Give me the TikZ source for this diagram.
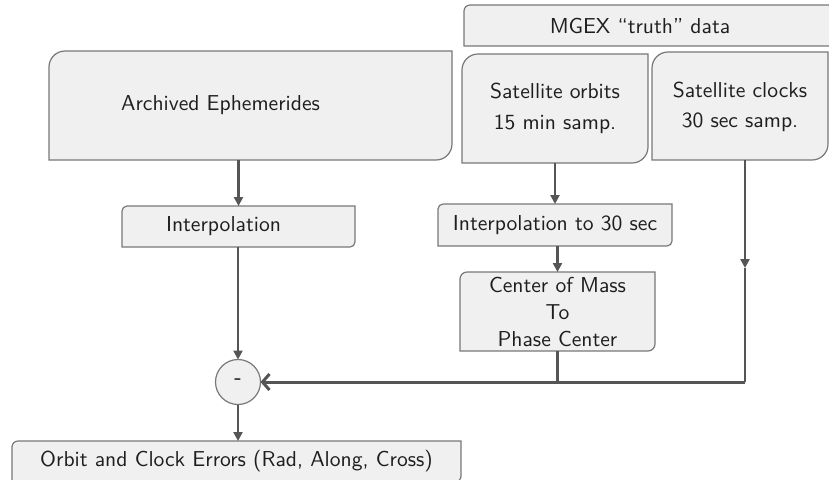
\documentclass[tikz,border=0pt]{standalone}
\usetikzlibrary{arrows.meta,backgrounds,calc}
\definecolor{boxfill}{HTML}{F0F0F0}
\definecolor{boxedge}{HTML}{787878}
\definecolor{linecol}{HTML}{555555}
\definecolor{textcol}{HTML}{1E1E1E}
\newcommand\tlbrbox[2]{%
  \path[boxshape] (#1.south west) -- ([yshift=-#2]#1.north west)
    arc[start angle=180,end angle=90,radius=#2] -- (#1.north east)
    -- ([yshift=#2]#1.south east) arc[start angle=0,end angle=-90,radius=#2] -- cycle;}
\begin{document}
\begin{tikzpicture}[x=0.5pt,y=-0.5pt,
  every node/.style={font=\sffamily\fontsize{10.8}{13.5}\selectfont,text=textcol},
  box/.style={rectangle,draw=none,inner sep=0pt,outer sep=0pt,align=center},
  boxshape/.style={fill=boxfill,draw=boxedge,line width=0.6pt},
  conn/.style={draw=linecol,line width=1.2pt,-{Triangle[length=4.5pt,width=4.5pt]}},
  plain/.style={draw=linecol,line width=1.2pt},
  mainconn/.style={draw=linecol,line width=1.5pt,-{Straight Barb[length=3.5pt,width=8pt,line width=1.5pt]}},
  sumnode/.style={circle,draw=boxedge,fill=boxfill,line width=0.6pt,minimum size=22.5pt,inner sep=0pt,outer sep=0pt}]
\useasboundingbox (0,0) rectangle (829,479);

% nodes
\node[box,minimum width=201.5pt,minimum height=54.5pt] (arch) at (250.5,105.5) {Archived Ephemerides\hspace*{30pt}};
\node[box,minimum width=116.5pt,minimum height=20.5pt] (interp) at (238.5,226.5) {Interpolation\hspace*{15pt}};
\node[box,minimum width=188pt,minimum height=20.5pt] (mgex) at (652,25.5) {MGEX ``truth'' data\hspace*{12pt}};
\node[box,minimum width=93pt,minimum height=54.5pt,font=\sffamily\fontsize{10.8}{15.5}\selectfont] (orbits) at (555,108.5) {Satellite orbits\\15 min samp.};
\node[box,minimum width=88pt,minimum height=54pt,font=\sffamily\fontsize{10.8}{15.5}\selectfont] (clocks) at (740,106) {\raisebox{6pt}{\begin{tabular}{@{}c@{}}Satellite clocks\\[-0.3pt]30 sec samp.\end{tabular}}};
\node[box,minimum width=117pt,minimum height=21pt] (interp30) at (555,225) {Interpolation to 30 sec};
\node[box,minimum width=97.5pt,minimum height=39.5pt] (com) at (557.5,311.5) {Center of Mass\\To\\Phase Center};
\node[sumnode,font=\sffamily\bfseries\fontsize{10.8}{13.5}\selectfont] (minus) at (238,382) {-};
\node[box,minimum width=224.5pt,minimum height=20.5pt] (errors) at (236.5,461.5) {Orbit and Clock Errors (Rad, Along, Cross)};

\begin{scope}[on background layer]
  \tlbrbox{arch}{8pt}
  \tlbrbox{interp}{2.5pt}
  \tlbrbox{mgex}{3pt}
  \tlbrbox{orbits}{8pt}
  \tlbrbox{clocks}{8pt}
  \tlbrbox{interp30}{2.5pt}
  \tlbrbox{com}{3.5pt}
  \tlbrbox{errors}{3pt}
\end{scope}

% connectors
\coordinate (clkout) at (745,160);
\coordinate (clkmid) at (745,268);
\coordinate (turn) at (745,382);
\draw[conn] (arch.south -| interp.north) -- (interp.north);
\draw[conn] (interp.south -| minus.north) -- (minus.north);
\draw[conn] (minus.south) -- (minus.south |- errors.north);
\draw[conn] (orbits.south) -- (interp30.north);
\draw[conn] (com.north |- interp30.south) -- (com.north);
\draw[plain] (com.south) -- (com.south |- minus.east);
\draw[conn] (clkout) -- (clkmid);
\draw[plain] (clkmid) -- (turn);
\draw[mainconn] (turn) -- (minus.east);
\end{tikzpicture}
\end{document}
